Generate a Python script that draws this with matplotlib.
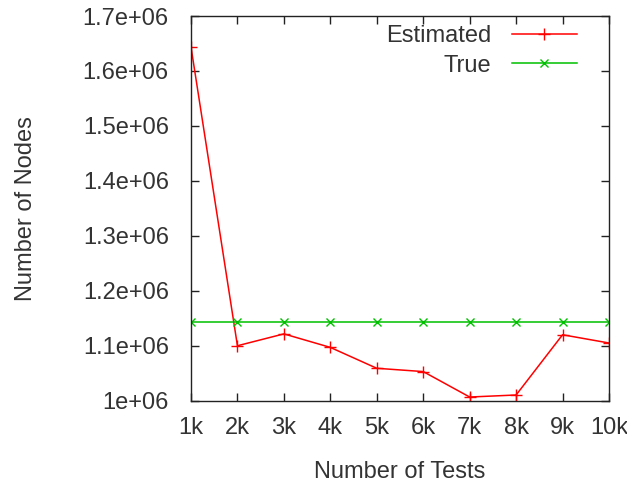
import matplotlib.pyplot as plt

plt.rcParams['font.family'] = ['Liberation Sans', 'DejaVu Sans']

tests = [1, 2, 3, 4, 5, 6, 7, 8, 9, 10]
tick_labels = ['1k', '2k', '3k', '4k', '5k', '6k', '7k', '8k', '9k', '10k']
estimated = [1.644e6, 1.100e6, 1.1216e6, 1.097e6, 1.059e6, 1.053e6, 1.0067e6, 1.0104e6, 1.120e6, 1.105e6]
true_nodes = [1.143e6] * 10

fig = plt.figure(figsize=(6.27, 4.86), dpi=100)
ax = fig.add_axes([0.3046, 0.1755, 0.9713 - 0.3046, 0.967 - 0.1755])

ax.plot(tests, estimated, color='#ff0000', lw=1.1, marker='+', ms=8, mew=1.0, label='Estimated')
ax.plot(tests, true_nodes, color='#00c000', lw=1.1, marker='x', ms=6, mew=1.0, label='True')

ax.set_xlim(1, 10)
ax.set_ylim(1.0e6, 1.7e6)
ax.set_xticks(tests)
ax.set_xticklabels(tick_labels)
yt = [1.0e6, 1.1e6, 1.2e6, 1.3e6, 1.4e6, 1.5e6, 1.6e6, 1.7e6]
ax.set_yticks(yt)
ax.set_yticklabels(['1e+06', '1.1e+06', '1.2e+06', '1.3e+06', '1.4e+06', '1.5e+06', '1.6e+06', '1.7e+06'])

txt = '#333333'
ax.tick_params(direction='in', length=6, width=1, colors='#222222', labelsize=17,
               top=True, right=True, labelcolor=txt)
ax.tick_params(axis='y', pad=16)
ax.tick_params(axis='x', pad=12)
for s in ax.spines.values():
    s.set_color('#222222')
    s.set_linewidth(1.0)

ax.set_xlabel('Number of Tests', fontsize=17, color=txt)
ax.set_ylabel('Number of Nodes', fontsize=17, color=txt)
ax.xaxis.set_label_coords(0.5, -0.157)
ax.yaxis.set_label_coords(-0.369, 0.5)

ax.legend(loc='upper right', frameon=False, markerfirst=False, fontsize=17,
          handlelength=2.75, numpoints=1, borderaxespad=0.0, labelspacing=0.3,
          handletextpad=0.85, bbox_to_anchor=(0.945, 1.0), labelcolor=txt)

fig.savefig('out.png', dpi=100)
